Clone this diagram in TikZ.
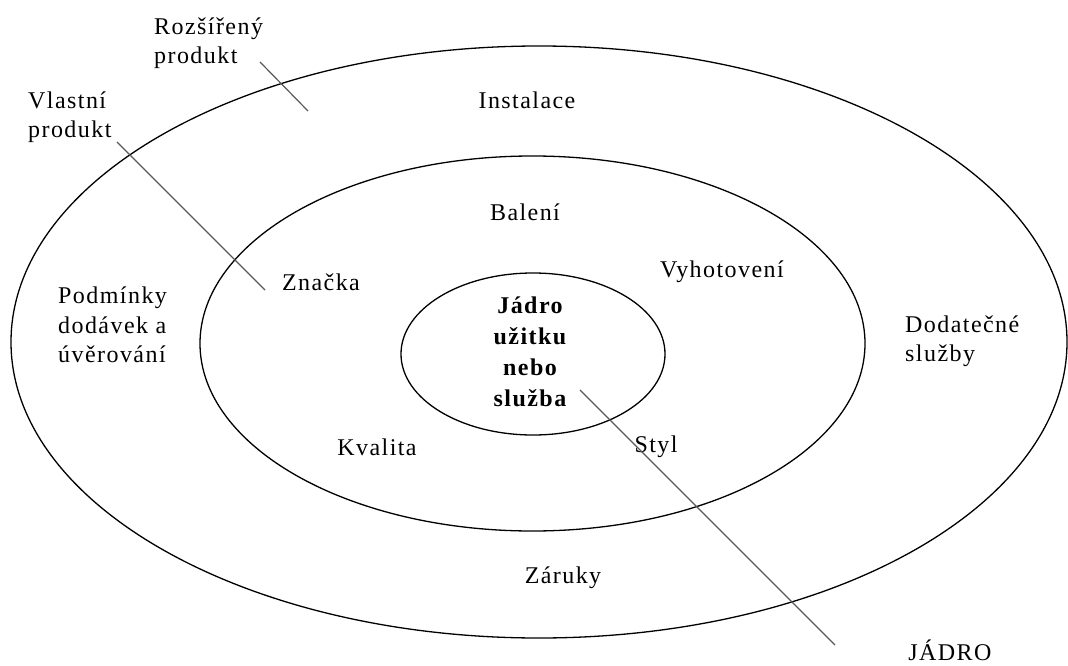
\documentclass[tikz,border=0pt]{standalone}
\usepackage{fontspec}
\setmainfont{Liberation Serif}[LetterSpace=6]
\usetikzlibrary{shapes.geometric}
\begin{document}
\begin{tikzpicture}[x=1pt,y=-1pt,
  ring/.style={ellipse, draw=black, line width=1.3pt, inner sep=0pt},
  lbl/.style={font=\fontsize{24}{29.5}\selectfont, inner sep=0pt, align=left},
  core/.style={font=\fontsize{24}{31}\selectfont\bfseries, inner sep=0pt, align=center},
  lead/.style={draw=black!65, line width=1.2pt}]
\useasboundingbox (0,0) rectangle (1068,666);
\fill[white] (0,0) rectangle (1068,666);
% rings
\node[ring, minimum width=1056pt, minimum height=592pt] (outer) at (539,342) {};
\node[ring, minimum width=665pt, minimum height=375pt] (middle) at (532.5,343.5) {};
\node[ring, minimum width=264pt, minimum height=162pt] (inner) at (533,354) {};
% labels
\node[lbl, anchor=west] (rozs) at (154,43) {Rozšířený\\produkt};
\node[lbl, anchor=west] (vlas) at (28,117) {Vlastní\\produkt};
\node[lbl] (inst) at (527,100) {Instalace};
\node[lbl] (bal) at (525,212) {Balení};
\node[lbl] (zna) at (321,282) {Značka};
\node[lbl] (vyh) at (722,272) {Vyhotovení};
\node[lbl, anchor=west] (podm) at (58,325) {Podmínky\\dodávek a\\úvěrování};
\node[lbl, anchor=west] (dod) at (905,341) {Dodatečné\\služby};
\node[core] (jadro) at (530,352) {Jádro\\užitku\\nebo\\služba};
\node[lbl] (kval) at (377,447) {Kvalita};
\node[lbl] (styl) at (656,447) {Styl};
\node[lbl] (zar) at (563,578) {Záruky};
\node[lbl] (jad) at (950,650) {JÁDRO};
% leader lines
\coordinate (r1) at (260,62);
\coordinate (r2) at (308,111);
\coordinate (v1) at (117,142);
\coordinate (v2) at (265,290);
\coordinate (j1) at (580,390);
\coordinate (j2) at (835,645);
\draw[lead] (r1) -- (r2);
\draw[lead] (v1) -- (v2);
\draw[lead] (j1) -- (j2);
\end{tikzpicture}
\end{document}
